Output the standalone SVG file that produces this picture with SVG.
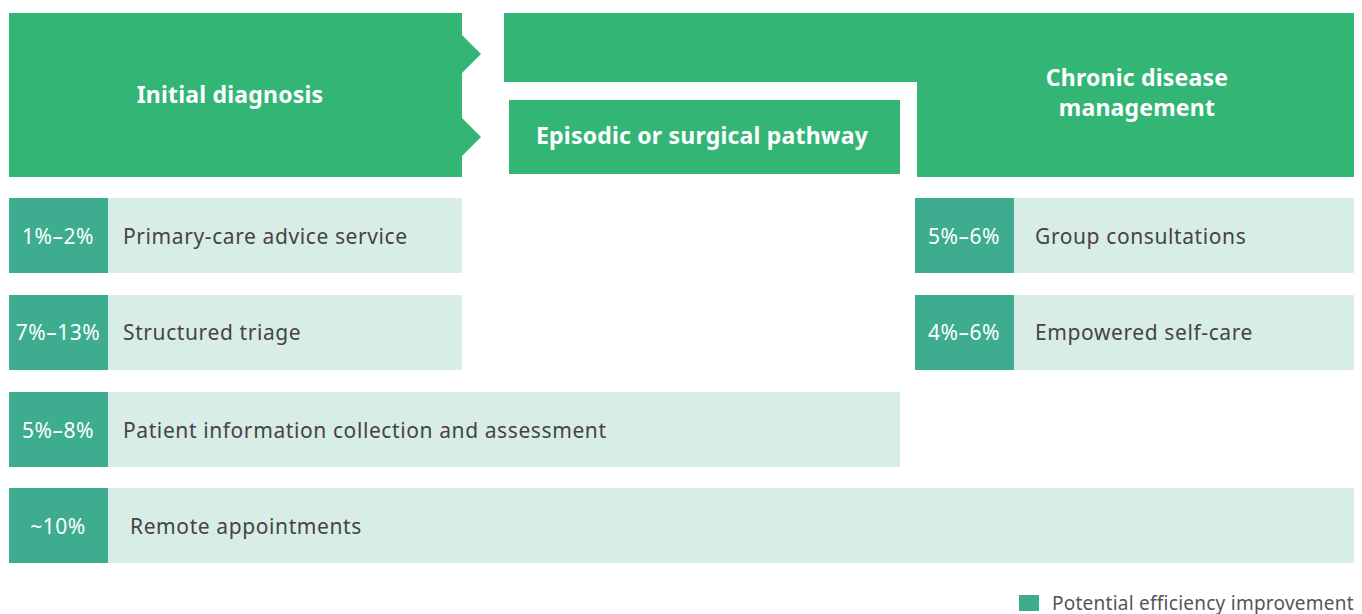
<svg xmlns="http://www.w3.org/2000/svg" width="1362" height="614" viewBox="0 0 1362 614">
<style>
.hdr{fill:#33b675}
.pct{fill:#3dac8f}
.lt{fill:#d9ede7}
.ht{font-family:"Noto Sans","Open Sans",sans-serif;font-weight:bold;font-size:23px;letter-spacing:0.2px;fill:#fff;text-anchor:middle}
.pt{font-family:"Noto Sans","Open Sans",sans-serif;font-size:21px;letter-spacing:0.5px;fill:#fff;text-anchor:middle}
.lb{font-family:"Noto Sans","Open Sans",sans-serif;font-size:21px;letter-spacing:0.6px;fill:#444}
.lg{font-family:"Noto Sans","Open Sans",sans-serif;font-size:19px;letter-spacing:0.25px;fill:#555}
</style>
<rect width="1362" height="614" fill="#fff"/>
<g id="initial-diagnosis">
<path class="hdr" d="M9 13H462V35L481 54L462 73V118L481 137L462 156V177H9Z"/>
<text class="ht" x="230" y="103">Initial diagnosis</text>
</g>
<g id="chronic-disease-management">
<path class="hdr" d="M504 13H1354V177H917V82H504Z"/>
<text class="ht" x="1137" y="86">Chronic disease</text>
<text class="ht" x="1137" y="116">management</text>
</g>
<g id="episodic-pathway">
<rect class="hdr" x="509" y="100" width="391" height="74"/>
<text class="ht" x="702" y="144">Episodic or surgical pathway</text>
</g>
<g id="primary-care">
<rect class="lt" x="108" y="198" width="354" height="75"/>
<rect class="pct" x="9" y="198" width="99" height="75"/>
<text class="pt" x="58" y="244">1%–2%</text>
<text class="lb" x="123" y="244">Primary-care advice service</text>
</g>
<g id="structured-triage">
<rect class="lt" x="108" y="295" width="354" height="75"/>
<rect class="pct" x="9" y="295" width="99" height="75"/>
<text class="pt" x="58" y="340">7%–13%</text>
<text class="lb" x="123" y="340">Structured triage</text>
</g>
<g id="patient-information">
<rect class="lt" x="108" y="392" width="792" height="75"/>
<rect class="pct" x="9" y="392" width="99" height="75"/>
<text class="pt" x="58" y="438">5%–8%</text>
<text class="lb" x="123" y="438">Patient information collection and assessment</text>
</g>
<g id="remote-appointments">
<rect class="lt" x="108" y="488" width="1246" height="75"/>
<rect class="pct" x="9" y="488" width="99" height="75"/>
<text class="pt" x="58" y="534">~10%</text>
<text class="lb" x="130" y="534">Remote appointments</text>
</g>
<g id="group-consultations">
<rect class="lt" x="1014" y="198" width="340" height="75"/>
<rect class="pct" x="915" y="198" width="99" height="75"/>
<text class="pt" x="964" y="244">5%–6%</text>
<text class="lb" x="1035" y="244">Group consultations</text>
</g>
<g id="self-care">
<rect class="lt" x="1014" y="295" width="340" height="75"/>
<rect class="pct" x="915" y="295" width="99" height="75"/>
<text class="pt" x="964" y="340">4%–6%</text>
<text class="lb" x="1035" y="340">Empowered self-care</text>
</g>
<g id="legend">
<rect class="pct" x="1019" y="595" width="20" height="16"/>
<text class="lg" x="1052" y="610">Potential efficiency improvement</text>
</g>
<g id="connectors"></g>
</svg>
